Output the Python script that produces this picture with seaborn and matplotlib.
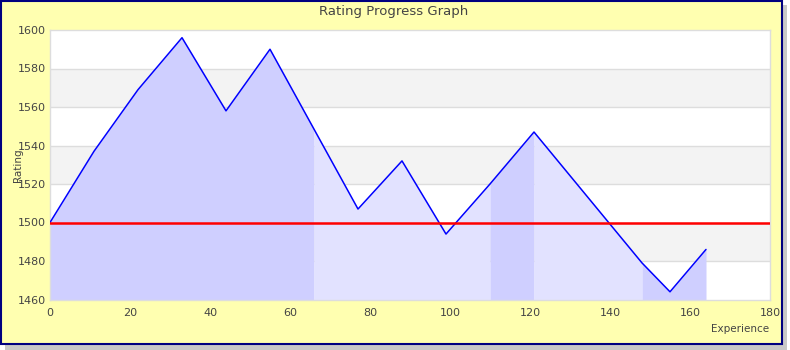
import matplotlib
matplotlib.use("Agg")
import matplotlib.pyplot as plt
from matplotlib.patches import Rectangle
import seaborn as sns
import pandas as pd

# values
experience = [0, 11, 22, 33, 44, 55, 66, 77, 88, 99, 110, 121, 148, 155, 164]
rating = [1500, 1537, 1569, 1596, 1558, 1590, 1548.5, 1507, 1532, 1494, 1520, 1547, 1479, 1464, 1486]
# shaded periods under the curve (start, end)
periods = [(0, 66), (66, 110), (110, 121), (121, 148), (148, 164)]
period_colors = ['#cfcfff', '#e2e2ff', '#cfcfff', '#e2e2ff', '#cfcfff']
base_rating = 1500
x_ticks = [0, 20, 40, 60, 80, 100, 120, 140, 160, 180]
y_ticks = [1460, 1480, 1500, 1520, 1540, 1560, 1580, 1600]

df = pd.DataFrame({'Experience': experience, 'Rating': rating})

sns.set_style('white')
plt.rcParams['font.family'] = ['DejaVu Sans']

fig = plt.figure(figsize=(7.9, 3.5), dpi=100)
fig.patch.set_facecolor('white')

# shadow and yellow frame (behind the axes)
fig.patches.append(Rectangle((5 / 790, 0), 782 / 790, 345 / 350, transform=fig.transFigure,
                             facecolor='#c8c8c8', edgecolor='none', zorder=-2))
fig.patches.append(Rectangle((1 / 790, 6 / 350), 781 / 790, 343 / 350, transform=fig.transFigure,
                             facecolor='#ffffb0', edgecolor='#000080', linewidth=1.5, zorder=-1))

ax = fig.add_axes([50 / 790, 50.5 / 350, 720 / 790, 269.5 / 350])
ax.set_facecolor('white')

# alternating horizontal bands
for i, lo in enumerate(y_ticks[:-1]):
    if i % 2 == 1:
        ax.axhspan(lo, lo + 20, color='#f3f3f3', zorder=0, linewidth=0)
for y in y_ticks[1:-1]:
    ax.axhline(y, color='#dddddd', linewidth=1, zorder=0.5)

# fill under the curve, per period
for (start, end), col in zip(periods, period_colors):
    seg = df[(df['Experience'] >= start) & (df['Experience'] <= end)]
    ax.fill_between(seg['Experience'], seg['Rating'], y_ticks[0], color=col, linewidth=0, zorder=1)

sns.lineplot(data=df, x='Experience', y='Rating', color='#0000ff', linewidth=1.1, ax=ax, zorder=3)
ax.axhline(base_rating, color='#ff0000', linewidth=1.8, zorder=4)

ax.set_xlim(0, 180)
ax.set_ylim(1460, 1600)
ax.set_xticks(x_ticks)
ax.set_yticks(y_ticks)
ax.tick_params(length=0, labelsize=8, labelcolor='#444444')
ax.tick_params(axis='x', pad=6)
ax.tick_params(axis='y', pad=3)
for s in ax.spines.values():
    s.set_color('#dddddd')
    s.set_linewidth(1)
ax.set_xlabel('')
ax.set_ylabel('')

fig.text(394 / 790, 1 - 11 / 350, 'Rating Progress Graph', ha='center', va='center',
         fontsize=9.5, color='#444444')
fig.text(18 / 790, 1 - 165 / 350, 'Rating', rotation=90, ha='center', va='center',
         fontsize=7.5, color='#444444')
fig.text(769 / 790, 1 - 329 / 350, 'Experience', ha='right', va='center',
         fontsize=7.5, color='#444444')

fig.savefig('out.png', dpi=100)
